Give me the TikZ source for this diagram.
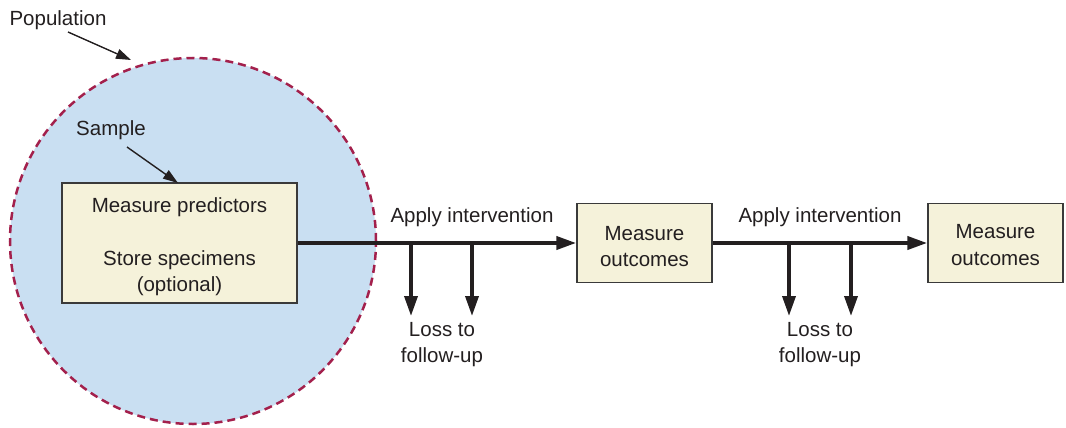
\documentclass[tikz,border=0pt]{standalone}
\usepackage{fontspec}
\setmainfont{Liberation Sans}
\usetikzlibrary{arrows.meta}
\definecolor{popfill}{HTML}{C9DFF2}
\definecolor{popline}{HTML}{A3204C}
\definecolor{boxfill}{HTML}{F5F2DA}
\definecolor{boxline}{HTML}{3A3A3A}
\definecolor{ink}{HTML}{231F20}
\tikzset{
  lbl/.style={text=ink, font=\fontsize{20.5}{26}\selectfont, align=center, inner sep=0pt},
  boxtext/.style={text=ink, font=\fontsize{20.5}{26.5}\selectfont, align=center, inner sep=0pt},
  stepbox/.style={draw=boxline, line width=1.5pt, fill=boxfill, inner sep=0pt},
  mainarrow/.style={draw=ink, line width=4pt, -{Triangle[length=20pt,width=13pt]}},
  lossarrow/.style={draw=ink, line width=3.5pt, -{Triangle[length=20pt,width=13pt]}},
  pointer/.style={draw=ink, line width=1.4pt, -{Triangle[length=15pt,width=10pt]}},
}
\begin{document}
\begin{tikzpicture}[x=1pt,y=-1pt]
\useasboundingbox (0,0) rectangle (1066,428);
% population circle
\node[circle, minimum size=366pt, inner sep=0pt, fill=popfill, draw=popline, line width=2.5pt, dash pattern=on 8pt off 5pt] (pop) at (193,241) {};
% boxes
\node[stepbox, minimum width=235pt, minimum height=120pt] (b1) at (179.5,243) {};
\node[stepbox, minimum width=135pt, minimum height=79pt] (b2) at (644.5,243) {};
\node[stepbox, minimum width=135pt, minimum height=79pt] (b3) at (995.5,243) {};
\node[boxtext] (b1t) at (179.5,246.5) {Measure predictors\\[26.5pt]Store specimens\\(optional)};
\node[boxtext] (b2t) at (644.5,246.5) {Measure\\outcomes};
\node[boxtext] (b3t) at (995.5,245) {Measure\\outcomes};
% main arrows
\draw[mainarrow] (b1.east) -- (b2.west);
\draw[mainarrow] (b2.east) -- (b3.west);
% loss arrows
\coordinate (l1s) at (411,243); \coordinate (l1e) at (411,316);
\coordinate (l2s) at (472,243); \coordinate (l2e) at (472,316);
\coordinate (l3s) at (789,243); \coordinate (l3e) at (789,316);
\coordinate (l4s) at (851,243); \coordinate (l4e) at (851,316);
\draw[lossarrow] (l1s) -- (l1e);
\draw[lossarrow] (l2s) -- (l2e);
\draw[lossarrow] (l3s) -- (l3e);
\draw[lossarrow] (l4s) -- (l4e);
% labels
\node[lbl] (ap1) at (472,217) {Apply intervention};
\node[lbl] (ap2) at (820,217) {Apply intervention};
\node[lbl] (lo1) at (442,345) {Loss to\\follow-up};
\node[lbl] (lo2) at (820,345) {Loss to\\follow-up};
\node[lbl] (poplbl) at (58,20) {Population};
\node[lbl] (samlbl) at (111,130) {Sample};
% pointers
\coordinate (p1s) at (68,32); \coordinate (p1e) at (131,60);
\coordinate (p2s) at (127,147); \coordinate (p2e) at (178,183);
\draw[pointer] (p1s) -- (p1e);
\draw[pointer] (p2s) -- (p2e);
\end{tikzpicture}
\end{document}
